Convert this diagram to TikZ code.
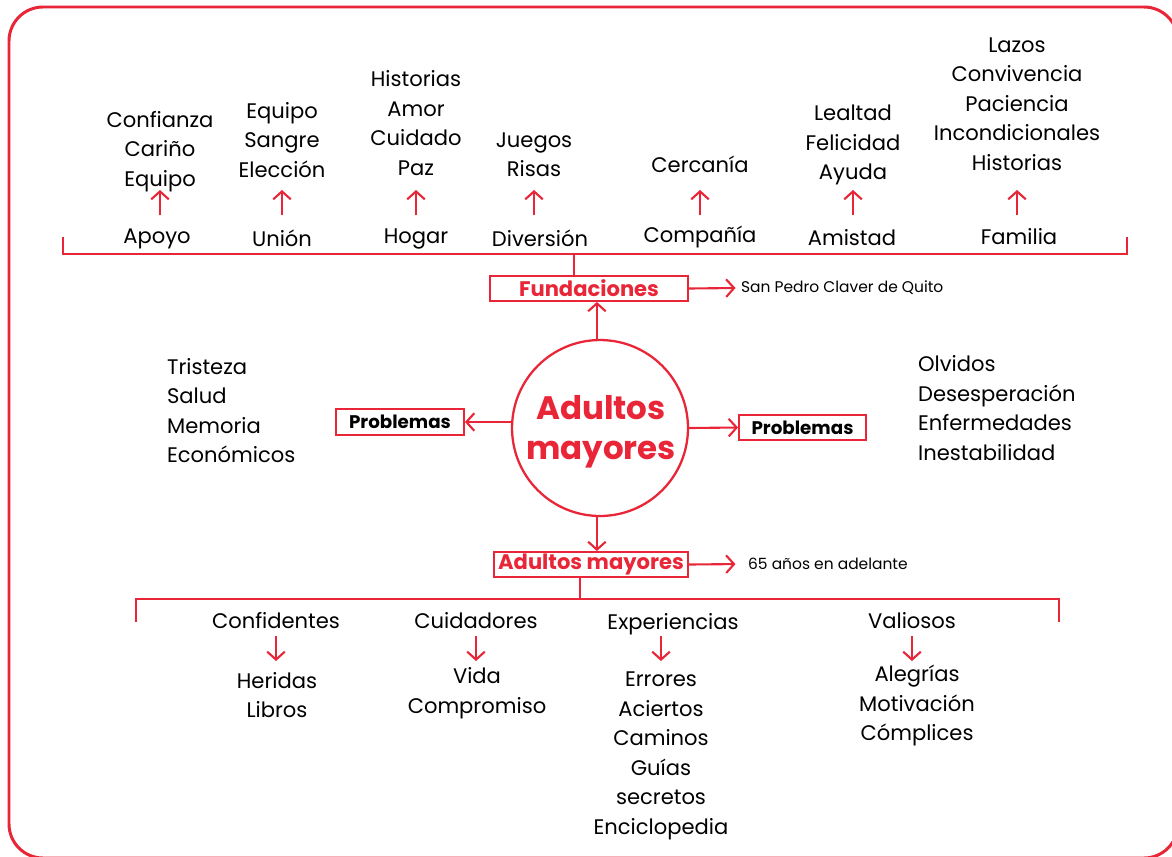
\documentclass[tikz,border=0pt]{standalone}
\usepackage{fontspec}
\setmainfont{Poppins}
\usepackage{tikz}
\usetikzlibrary{arrows.meta}
\definecolor{rojo}{RGB}{232,38,56}

\begin{document}
\begin{tikzpicture}[x=0.02cm,y=-0.02cm,
        palabra/.style={font=\fontsize{12}{16.8}\selectfont,align=center,inner sep=1pt},
        lista/.style={font=\fontsize{12}{16.8}\selectfont,align=left,inner sep=1pt,anchor=west},
        nota/.style={font=\fontsize{8.8}{11}\selectfont,anchor=west,inner xsep=3pt,inner ysep=1pt},
        caja/.style={draw=rojo,line width=1.1pt,inner sep=0pt,minimum height=0.5cm,font=\bfseries\fontsize{12}{14}\selectfont},
        flecha/.style={draw=rojo,line width=1.2pt,-{Straight Barb[length=4.5pt,width=10pt]}},
        linea/.style={draw=rojo,line width=1.1pt}]
                \useasboundingbox (0,0) rectangle (1172,856);
                \draw[rojo,line width=1.7pt,rounded corners=0.68cm] (9,7) rectangle (1178,858);

                % fila de arriba
                \node[palabra] (APOYO) at (157,239){Apoyo};
                \node[palabra] (UNION) at (282,238){Unión};
                \node[palabra] (HOGAR) at (416,239){Hogar};
                \node[palabra] (DIVERSION) at (540,238){Diversión};
                \node[palabra] (COMPANIA) at (700,237){Compañía};
                \node[palabra] (AMISTAD) at (852,238){Amistad};
                \node[palabra] (FAMILIA) at (1019,237){Familia};

                \node[palabra] (CONFIANZA) at (160,151.5){Confianza\\Cariño\\Equipo};
                \node[palabra] (EQUIPO) at (282,140){Equipo\\Sangre\\Elección};
                \node[palabra] (HISTORIAS) at (416,123){Historias\\Amor\\Cuidado\\Paz};
                \node[palabra] (JUEGOS) at (534,154.5){Juegos\\Risas};
                \node[palabra] (CERCANIA) at (700,164){Cercanía};
                \node[palabra] (LEALTAD) at (853,145){Lealtad\\Felicidad\\Ayuda};
                \node[palabra] (LAZOS) at (1017,104){Lazos\\Convivencia\\Paciencia\\Incondicionales\\Historias};

                \coordinate (ABAJO) at (0,215);
                \coordinate (ARRIBA) at (0,190);
                \draw[flecha] (CONFIANZA |- ABAJO) -- (CONFIANZA |- ARRIBA);
                \draw[flecha] (UNION |- ABAJO) -- (UNION |- ARRIBA);
                \draw[flecha] (HOGAR |- ABAJO) -- (HOGAR |- ARRIBA);
                \draw[flecha] (JUEGOS |- ABAJO) -- (JUEGOS |- ARRIBA);
                \draw[flecha] (CERCANIA |- ABAJO) -- (CERCANIA |- ARRIBA);
                \draw[flecha] (LEALTAD |- ABAJO) -- (LEALTAD |- ARRIBA);
                \draw[flecha] (LAZOS |- ABAJO) -- (LAZOS |- ARRIBA);

                \draw[linea] (63,237) -- (63,254) -- (1127,254) -- (1127,237);
                \coordinate (TOPE) at (574,254);

                % centro
                \node[caja,text=rojo,minimum width=3.96cm] (FUND) at (589,288.5){Fundaciones};
                \node[nota] (SANPEDRO) at (735.5,288){San Pedro Claver de Quito};
                \node[circle,draw=rojo,line width=1.3pt,minimum size=3.52cm,inner sep=0pt] (ADULTOS) at (600,428){};
                \node[text=rojo,font=\bfseries\fontsize{18.5}{22.8}\selectfont,align=center,inner sep=0pt] (TITULO) at (601,432){Adultos\\mayores};
                \node[caja,minimum width=2.56cm,minimum height=0.52cm,font=\bfseries\fontsize{10.4}{12}\selectfont] (PROBIZQ) at (400,422){Problemas};
                \node[caja,minimum width=2.54cm,font=\bfseries\fontsize{10.4}{12}\selectfont] (PROBDER) at (802.5,427.5){Problemas};
                \node[caja,text=rojo,minimum width=3.88cm] (ADMAY) at (591,564.5){Adultos mayores};
                \node[nota] (EDAD) at (742.5,564){65 años en adelante};

                \node[lista] (TRISTEZA) at (165,410.5){Tristeza\\Salud\\Memoria\\Económicos};
                \node[lista] (OLVIDOS) at (916,408){Olvidos\\Desesperación\\Enfermedades\\Inestabilidad};

                \draw[linea] (TOPE) -- (TOPE |- FUND.north);
                \draw[flecha] (FUND.east) -- (SANPEDRO.west);
                \draw[flecha] (ADULTOS.92) -- (ADULTOS.92 |- FUND.south);
                \draw[flecha] (ADULTOS.268) -- (ADULTOS.268 |- ADMAY.north);
                \draw[flecha,shorten >=4pt] (ADMAY.east) -- (EDAD.west);
                \draw[flecha] (PROBIZQ.east -| ADULTOS.west) -- (PROBIZQ.east);
                \draw[flecha] (ADULTOS.east) -- (PROBDER.west);

                % fila de abajo
                \coordinate (BASE) at (580,599);
                \draw[linea] (BASE |- ADMAY.south) -- (BASE);
                \draw[linea] (136,622) -- (136,599) -- (1059,599) -- (1059,622);

                \node[palabra] (CONFIDENTES) at (276,621){Confidentes};
                \node[palabra] (CUIDADORES) at (476,621){Cuidadores};
                \node[palabra] (EXPERIENCIAS) at (673,624){Experiencias};
                \node[palabra] (VALIOSOS) at (912,621){Valiosos};

                \node[palabra] (HERIDAS) at (277,695){Heridas\\Libros};
                \node[palabra] (VIDA) at (477,693){Vida\\Compromiso};
                \node[palabra] (ERRORES) at (661,756){Errores\\Aciertos\\Caminos\\Guías\\secretos\\Enciclopedia};
                \node[palabra] (ALEGRIAS) at (917,705.5){Alegrías\\Motivación\\Cómplices};

                \coordinate (SALIDA) at (0,636);
                \coordinate (LLEGADA) at (0,661);
                \draw[flecha] (CONFIDENTES |- SALIDA) -- (CONFIDENTES |- LLEGADA);
                \draw[flecha] (CUIDADORES |- SALIDA) -- (CUIDADORES |- LLEGADA);
                \draw[flecha] (ERRORES |- SALIDA) -- (ERRORES |- LLEGADA);
                \draw[flecha] (VALIOSOS |- SALIDA) -- (VALIOSOS |- LLEGADA);
        \end{tikzpicture}
\end{document}
